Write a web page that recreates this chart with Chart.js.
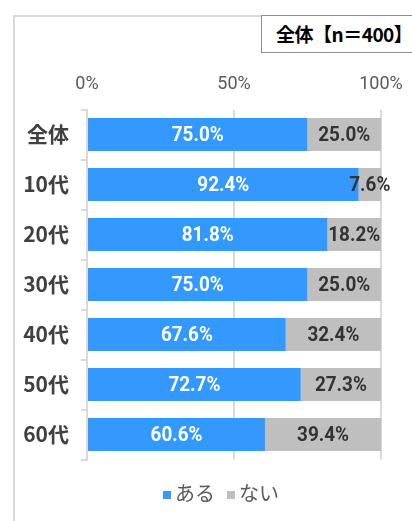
<!DOCTYPE html>
<html>
<head>
<meta charset="utf-8">
<script src="https://cdn.jsdelivr.net/npm/chart.js@4.4.0/dist/chart.umd.min.js"></script>
<style>
  html, body { margin: 0; padding: 0; background: #fff; }
  body { width: 412px; height: 521px; position: relative; overflow: hidden;
         font-family: "Noto Sans CJK JP", "Noto Sans", sans-serif; }
  .frame { position: absolute; left: 13px; top: 15px; width: 420px; height: 520px;
           border-left: 2px solid #d9d9d9; border-top: 2px solid #d9d9d9; box-sizing: border-box; }
  .nbox { position: absolute; left: 261px; top: 15px; width: 170px; height: 38px;
          border: 1px solid #8c8c8c; box-sizing: border-box; background: #fff;
          font-weight: bold; font-size: 19px; color: #000; line-height: 36px; padding-left: 14px;
          letter-spacing: -0.5px; }
  .wrap { position: absolute; left: 0; top: 0; width: 412px; height: 521px; }
  .legend { position: absolute; top: 479px; left: 163px; white-space: nowrap;
            font-size: 20px; color: #595959; line-height: 28px; }
  .legend span.sw { display: inline-block; width: 8px; height: 8px; margin-right: 4px; vertical-align: 2px; }
  .legend .item { margin-right: 12px; }
</style>
</head>
<body>
<div class="frame"></div>
<div class="nbox">全体【n＝400】</div>
<div class="wrap"><canvas id="c" width="412" height="521"></canvas></div>
<div class="legend"><span class="item"><span class="sw" style="background:#3399ff"></span>ある</span><span class="item"><span class="sw" style="background:#bfbfbf"></span>ない</span></div>
<script>
// ——— DATA ———
const categories = ["全体", "10代", "20代", "30代", "40代", "50代", "60代"];
const aruValues = [75.0, 92.4, 81.8, 75.0, 67.6, 72.7, 60.6];
const naiValues = [25.0, 7.6, 18.2, 25.0, 32.4, 27.3, 39.4];
const seriesNames = ["ある", "ない"];
const xTicks = [0, 50, 100];

// ——— LABELS INSIDE BARS ———
const barLabels = {
  id: 'barLabels',
  afterDatasetsDraw(chart) {
    const ctx = chart.ctx;
    chart.data.datasets.forEach((ds, di) => {
      const meta = chart.getDatasetMeta(di);
      meta.data.forEach((bar, i) => {
        const cx = (bar.x + bar.base) / 2;
        ctx.save();
        ctx.translate(cx, bar.y + 1);
        ctx.scale(0.9, 1);
        ctx.font = 'bold 21px Roboto, "Noto Sans", sans-serif';
        ctx.textAlign = 'center';
        ctx.textBaseline = 'middle';
        ctx.fillStyle = di === 0 ? '#ffffff' : '#333333';
        ctx.fillText(ds.data[i].toFixed(1) + '%', 0, 0);
        ctx.restore();
      });
    });
  }
};

new Chart(document.getElementById('c'), {
  type: 'bar',
  data: {
    labels: categories,
    datasets: [
      { label: seriesNames[0], data: aruValues, backgroundColor: '#3399ff', categoryPercentage: 0.66, barPercentage: 1 },
      { label: seriesNames[1], data: naiValues, backgroundColor: '#bfbfbf', categoryPercentage: 0.66, barPercentage: 1 }
    ]
  },
  options: {
    indexAxis: 'y',
    responsive: false,
    animation: false,
    layout: { padding: { top: 60, right: 31, bottom: 61.5, left: 0 } },
    plugins: { legend: { display: false }, tooltip: { enabled: false } },
    scales: {
      x: {
        position: 'top',
        stacked: true,
        min: 0, max: 100,
        afterFit(s) { s.height = 49.5; s.paddingLeft = 0; s.paddingRight = 0; },
        afterBuildTicks(s) { s.ticks = xTicks.map(v => ({ value: v })); },
        ticks: { callback: v => v + '%', color: '#595959', padding: 14,
                 font: { size: 18, family: 'Roboto, "Noto Sans", sans-serif' } },
        grid: { color: '#d9d9d9', lineWidth: 2, drawTicks: false },
        border: { display: false }
      },
      y: {
        stacked: true,
        afterFit(s) { s.width = 87; s.paddingTop = 0; s.paddingBottom = 0; },
        ticks: { color: '#404040', padding: 12,
                 font: { size: 21, weight: 'bold', family: '"Noto Sans CJK JP", sans-serif' } },
        grid: { offset: true, drawOnChartArea: false, drawTicks: true, tickLength: 6, color: '#d9d9d9', lineWidth: 2 },
        border: { display: true, color: '#d9d9d9', width: 2 }
      }
    }
  },
  plugins: [barLabels]
});
</script>
</body>
</html>
